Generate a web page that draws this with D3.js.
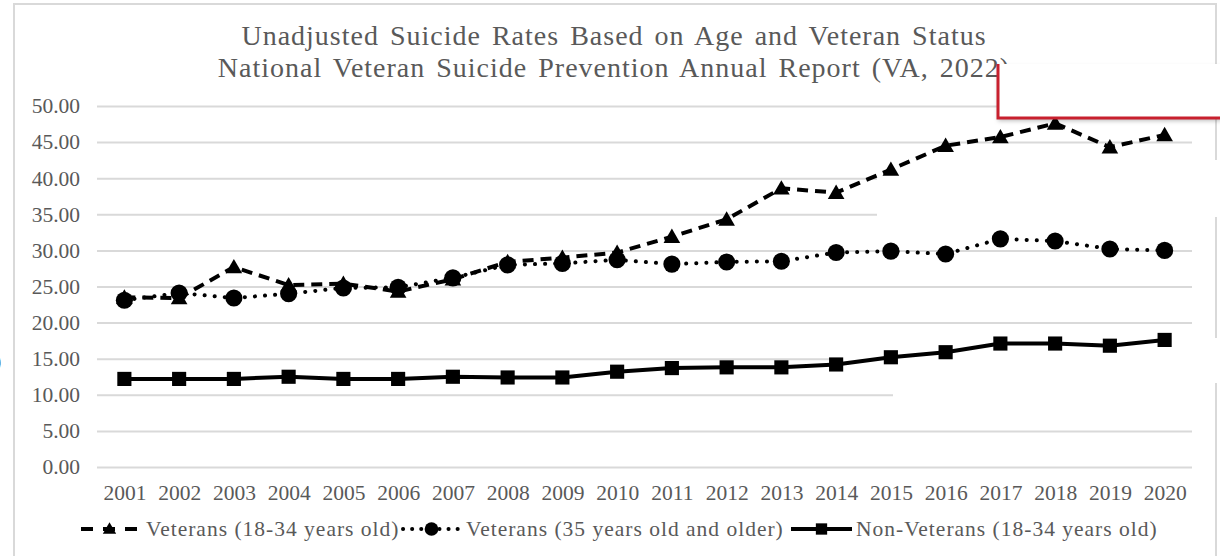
<!DOCTYPE html>
<html>
<head>
<meta charset="utf-8">
<script src="https://cdn.jsdelivr.net/npm/d3@7"></script>
<style>
  html, body { margin: 0; padding: 0; background: #ffffff; }
  svg { display: block; }
  svg text { font-family: "Liberation Serif", "Tinos", "DejaVu Serif", "Noto Serif", serif !important; }
</style>
</head>
<body>
<svg id="chart" width="1220" height="556"></svg>
<script>
// Unadjusted suicide rates per 100,000, 2001-2020
const years = ["2001","2002","2003","2004","2005","2006","2007","2008","2009","2010",
               "2011","2012","2013","2014","2015","2016","2017","2018","2019","2020"];
const veterans1834 = [23.5,23.4,27.7,25.2,25.4,24.3,26.0,28.4,29.0,29.7,
                      31.9,34.3,38.6,38.0,41.2,44.5,45.7,47.6,44.3,46.0];
const veterans35plus = [23.1,24.1,23.4,24.0,24.8,24.9,26.2,28.0,28.2,28.7,
                        28.1,28.4,28.5,29.7,29.9,29.5,31.6,31.3,30.2,30.0];
const nonVeterans1834 = [12.2,12.2,12.2,12.5,12.2,12.2,12.5,12.4,12.4,13.2,
                         13.7,13.8,13.8,14.2,15.2,15.9,17.1,17.1,16.8,17.6];
const yTicks = [0,5,10,15,20,25,30,35,40,45,50];
const titleLines = ["Unadjusted Suicide Rates Based on Age and Veteran Status",
                    "National Veteran Suicide Prevention Annual Report (VA, 2022)"];
const seriesNames = ["Veterans (18-34 years old)",
                     "Veterans (35 years old and older)",
                     "Non-Veterans (18-34 years old)"];

const FONT = '"Liberation Serif", "Tinos", "DejaVu Serif", serif';
const svg = d3.select("#chart");
const textGray = "#595959";
const gridGray = "#d9d9d9";

const plot = { left: 97, right: 1192, top: 106, bottom: 467 };

const x = d3.scalePoint().domain(years).range([plot.left, plot.right]).padding(0.5);
const y = d3.scaleLinear().domain([0, 50]).range([plot.bottom, plot.top]);

// outer chart frame
svg.append("rect")
  .attr("x", 14).attr("y", 4).attr("width", 1202).attr("height", 570)
  .attr("fill", "#fff").attr("stroke", gridGray).attr("stroke-width", 2);

// stray glyph on the left margin
svg.append("text").attr("x", -6).attr("y", 368)
  .attr("font-size", 22).attr("fill", "#262626").style("font-family", FONT).text(")");

// title
svg.append("g").selectAll("text").data(titleLines).join("text")
  .attr("x", 614).attr("y", (d, i) => 45 + i * 32)
  .attr("text-anchor", "middle")
  .attr("font-size", 28).attr("fill", textGray)
  .attr("letter-spacing", 1).attr("word-spacing", 3)
  .style("font-family", FONT)
  .text(d => d);

// y axis: gridlines + labels
const yAxis = d3.axisLeft(y).tickValues(yTicks).tickSize(-(plot.right - plot.left))
  .tickFormat(d3.format(".2f")).tickPadding(17);
const yg = svg.append("g").attr("transform", `translate(${plot.left},0)`).call(yAxis)
  .attr("font-family", null);
yg.select(".domain").remove();
yg.selectAll(".tick line").attr("stroke", gridGray).attr("stroke-width", 2);
yg.selectAll(".tick text").attr("font-size", 21.5).attr("fill", textGray)
  .style("font-family", FONT);

// x axis labels
const xAxis = d3.axisBottom(x).tickSize(0).tickPadding(18);
const xg = svg.append("g").attr("transform", `translate(0,${plot.bottom})`).call(xAxis)
  .attr("font-family", null);
xg.select(".domain").remove();
xg.selectAll(".tick text").attr("font-size", 21.5).attr("fill", textGray)
  .style("font-family", FONT);

// blank patches where the gridlines break off on the right
const patches = [
  { x: 877, y: 160, w: 345, h: 57 },
  { x: 830, y: 338, w: 392, h: 45 },
  { x: 893, y: 386, w: 300, h: 20 }
];
svg.append("g").selectAll("rect").data(patches).join("rect")
  .attr("x", d => d.x).attr("y", d => d.y).attr("width", d => d.w).attr("height", d => d.h)
  .attr("fill", "#fff");

// series
const styles = [
  { values: veterans1834, dash: "11 7", legendDash: "12 10", cap: "butt", marker: "triangle" },
  { values: veterans35plus, dash: "0.1 10", legendDash: "0.1 9", cap: "round", marker: "circle" },
  { values: nonVeterans1834, dash: null, legendDash: null, cap: "butt", marker: "square" }
];
const line = d3.line().x((d, i) => x(years[i])).y(d => y(d));
const symbolFor = {
  triangle: d3.symbol().type(d3.symbolTriangle).size(120),
  circle: d3.symbol().type(d3.symbolCircle).size(230),
  square: d3.symbol().type(d3.symbolSquare).size(200)
};

styles.forEach(s => {
  const g = svg.append("g");
  g.append("path").datum(s.values).attr("d", line)
    .attr("fill", "none").attr("stroke", "#000").attr("stroke-width", 4)
    .attr("stroke-linecap", s.cap).attr("stroke-linejoin", "round")
    .attr("stroke-dasharray", s.dash);
  g.selectAll("path.m").data(s.values).join("path").attr("class", "m")
    .attr("d", symbolFor[s.marker])
    .attr("transform", (d, i) => `translate(${x(years[i])},${y(d) + (s.marker === "triangle" ? 1.5 : 0)})`)
    .attr("fill", "#000");
});

// legend
const legendItems = [
  { name: seriesNames[0], x0: 81, x1: 138, tx: 146, s: styles[0] },
  { name: seriesNames[1], x0: 403, x1: 460, tx: 466, s: styles[1] },
  { name: seriesNames[2], x0: 791, x1: 852, tx: 856, s: styles[2] }
];
const ly = 529;
const lg = svg.append("g");
legendItems.forEach(it => {
  lg.append("line").attr("x1", it.x0).attr("x2", it.x1).attr("y1", ly).attr("y2", ly)
    .attr("stroke", "#000").attr("stroke-width", 4)
    .attr("stroke-linecap", it.s.cap).attr("stroke-dasharray", it.s.legendDash);
  lg.append("path").attr("d", symbolFor[it.s.marker])
    .attr("transform", `translate(${(it.x0 + it.x1) / 2},${ly + (it.s.marker === "triangle" ? 1 : 0)}) scale(0.8)`)
    .attr("fill", "#000");
  lg.append("text").attr("x", it.tx).attr("y", ly + 7)
    .attr("font-size", 21.5).attr("letter-spacing", 1)
    .attr("fill", textGray).style("font-family", FONT).text(it.name);
});

// white call-out box with red left and bottom edges at the upper right
const defs = svg.append("defs");
const f = defs.append("filter").attr("id", "shadow").attr("x", "-10%").attr("y", "-10%")
  .attr("width", "130%").attr("height", "160%");
f.append("feDropShadow").attr("dx", 0).attr("dy", 3).attr("stdDeviation", 2)
  .attr("flood-color", "#000").attr("flood-opacity", 0.25);
const box = { x: 998, y: 64, x2: 1222, y2: 118 };
svg.append("path")
  .attr("d", `M${box.x},${box.y}V${box.y2}H${box.x2}V${box.y}Z`)
  .attr("fill", "#fff").attr("filter", "url(#shadow)");
svg.append("path")
  .attr("d", `M${box.x},${box.y}V${box.y2}H${box.x2}`)
  .attr("fill", "none").attr("stroke", "#c8202e").attr("stroke-width", 3);
</script>
</body>
</html>
